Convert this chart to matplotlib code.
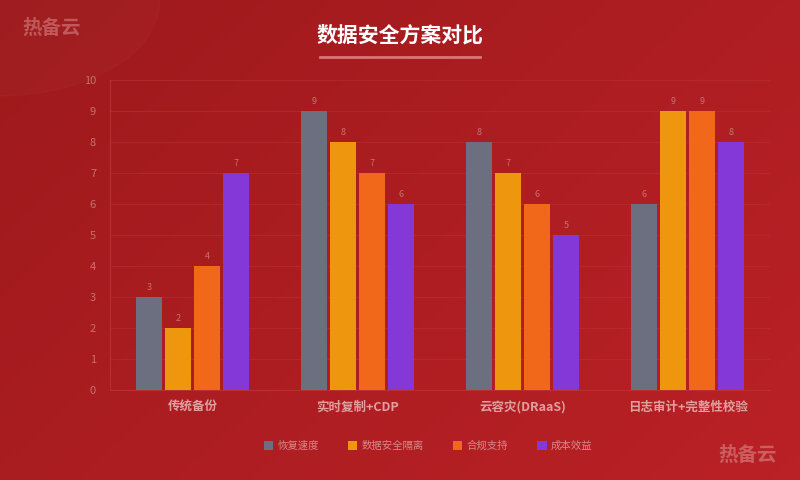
import matplotlib
matplotlib.use("Agg")
import matplotlib.pyplot as plt
import numpy as np

plt.rcParams['font.family'] = ['Noto Sans CJK SC', 'DejaVu Sans']

categories = ['传统备份', '实时复制+CDP', '云容灾(DRaaS)', '日志审计+完整性校验']
series_names = ['恢复速度', '数据安全隔离', '合规支持', '成本效益']
values = [
    [3, 9, 8, 6],
    [2, 8, 7, 9],
    [4, 7, 6, 9],
    [7, 6, 5, 8],
]
colors = ['#6b6f80', '#ef960f', '#f1681b', '#8438d8']

fig = plt.figure(figsize=(8, 4.8), dpi=100)
bg = fig.add_axes([0, 0, 1, 1], zorder=-10)
gx, gy = np.meshgrid(np.linspace(0, 1, 200), np.linspace(0, 1, 120))
grad = (gx * 0.6 + gy * 0.4)
c1 = np.array([0.62, 0.10, 0.11]); c2 = np.array([0.73, 0.13, 0.15])
img = c1 + (c2 - c1) * grad[..., None]
bg.imshow(img, extent=[0, 1, 0, 1], aspect='auto', origin='upper')
bg.add_patch(plt.Circle((0.0, 1.0), 0.2, color='white', alpha=0.02, transform=bg.transAxes))
bg.set_xlim(0, 1); bg.set_ylim(0, 1); bg.axis('off')

fig.text(0.5, 0.927, '数据安全方案对比', ha='center', va='center', color='white', fontsize=15, fontweight='bold')
fig.add_artist(plt.Line2D([0.4, 0.6], [0.881, 0.881], color='#e08080', lw=2, alpha=0.9))
fig.text(0.065, 0.942, '热备云', ha='center', va='center', color='#c86868', fontsize=14, fontweight='bold', alpha=0.8)
fig.text(0.935, 0.052, '热备云', ha='center', va='center', color='#d07070', fontsize=14, fontweight='bold', alpha=0.8)

ax = fig.add_axes([0.1375, 0.1875, 0.825, 0.6458])
ax.set_facecolor('none')
x = np.arange(len(categories))
w = 0.158
off = 0.176
for i, (name, vals, c) in enumerate(zip(series_names, values, colors)):
    pos = x + (i - 1.5) * off
    ax.bar(pos, vals, width=w, color=c, label=name, zorder=3)
    for p, v in zip(pos, vals):
        ax.text(p, v + 0.15, str(v), ha='center', va='bottom', fontsize=6.5, color='#c87070')
ax.set_xlim(-0.5, 3.5)
ax.set_ylim(0, 10)
ax.set_yticks(range(0, 11))
ax.tick_params(axis='y', colors='#c87070', labelsize=8, length=0, pad=10)
ax.tick_params(axis='x', colors='#e0a0a0', labelsize=9, length=0, pad=8)
ax.set_xticks(x)
ax.set_xticklabels(categories, fontweight='bold')
ax.grid(axis='y', color='#b83030', lw=0.8, alpha=0.6, zorder=0)
for s in ['top', 'right']:
    ax.spines[s].set_visible(False)
ax.spines['left'].set_color('#b83030')
ax.spines['bottom'].set_color('#b83030')

leg = fig.legend(loc='center', bbox_to_anchor=(0.535, 0.071), ncol=4, frameon=False,
                 fontsize=7.5, handlelength=0.9, handleheight=0.9, columnspacing=2.8, handletextpad=0.4)
for t in leg.get_texts():
    t.set_color('#d88888')

fig.savefig('out.png', dpi=100)
